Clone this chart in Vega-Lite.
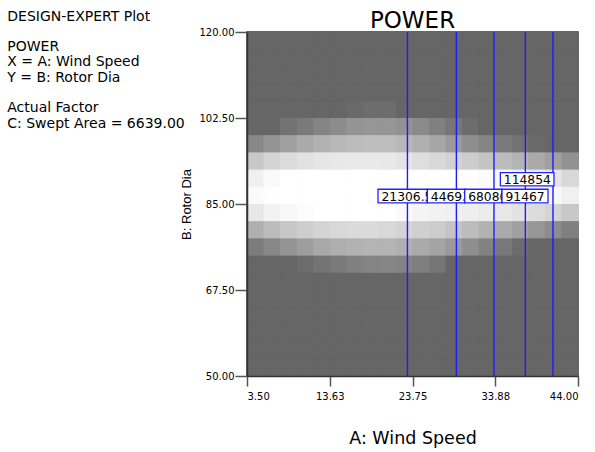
{
  "$schema": "https://vega.github.io/schema/vega-lite/v6.json",
  "width": 331,
  "height": 344,
  "autosize": "none",
  "padding": {"left": 247, "top": 32, "right": 17, "bottom": 76},
  "background": "white",
  "config": {
    "view": {"stroke": "#333333", "strokeWidth": 1.5, "fill": "#666666"},
    "axis": {"labelFont": "DejaVu Sans", "labelFontSize": 10, "labelColor": "black", "tickColor": "#555555", "tickWidth": 1.5, "domainColor": "#333333", "domainWidth": 1.5, "grid": false, "titleFontWeight": "normal", "titleColor": "black"},
    "text": {"font": "DejaVu Sans", "color": "black"}
  },
  "datasets": {
    "cells": [
      {"a":3.5,"b":116.5,"g":102},{"a":5.525,"b":116.5,"g":102},{"a":7.55,"b":116.5,"g":102},{"a":9.575,"b":116.5,"g":102},{"a":11.6,"b":116.5,"g":102},{"a":13.625,"b":116.5,"g":102},{"a":15.65,"b":116.5,"g":102},{"a":17.675,"b":116.5,"g":102},{"a":19.7,"b":116.5,"g":102},{"a":21.725,"b":116.5,"g":102},{"a":23.75,"b":116.5,"g":102},{"a":25.775,"b":116.5,"g":102},{"a":27.8,"b":116.5,"g":102},{"a":29.825,"b":116.5,"g":102},{"a":31.85,"b":116.5,"g":102},{"a":33.875,"b":116.5,"g":102},{"a":35.9,"b":116.5,"g":102},{"a":37.925,"b":116.5,"g":102},{"a":39.95,"b":116.5,"g":102},{"a":41.975,"b":116.5,"g":102},
      {"a":3.5,"b":113,"g":102},{"a":5.525,"b":113,"g":102},{"a":7.55,"b":113,"g":102},{"a":9.575,"b":113,"g":102},{"a":11.6,"b":113,"g":102},{"a":13.625,"b":113,"g":102},{"a":15.65,"b":113,"g":102},{"a":17.675,"b":113,"g":102},{"a":19.7,"b":113,"g":102},{"a":21.725,"b":113,"g":102},{"a":23.75,"b":113,"g":102},{"a":25.775,"b":113,"g":102},{"a":27.8,"b":113,"g":102},{"a":29.825,"b":113,"g":102},{"a":31.85,"b":113,"g":102},{"a":33.875,"b":113,"g":102},{"a":35.9,"b":113,"g":102},{"a":37.925,"b":113,"g":102},{"a":39.95,"b":113,"g":102},{"a":41.975,"b":113,"g":102},
      {"a":3.5,"b":109.5,"g":102},{"a":5.525,"b":109.5,"g":102},{"a":7.55,"b":109.5,"g":102},{"a":9.575,"b":109.5,"g":102},{"a":11.6,"b":109.5,"g":102},{"a":13.625,"b":109.5,"g":102},{"a":15.65,"b":109.5,"g":102},{"a":17.675,"b":109.5,"g":102},{"a":19.7,"b":109.5,"g":102},{"a":21.725,"b":109.5,"g":102},{"a":23.75,"b":109.5,"g":102},{"a":25.775,"b":109.5,"g":102},{"a":27.8,"b":109.5,"g":102},{"a":29.825,"b":109.5,"g":102},{"a":31.85,"b":109.5,"g":102},{"a":33.875,"b":109.5,"g":102},{"a":35.9,"b":109.5,"g":102},{"a":37.925,"b":109.5,"g":102},{"a":39.95,"b":109.5,"g":102},{"a":41.975,"b":109.5,"g":102},
      {"a":3.5,"b":106,"g":102},{"a":5.525,"b":106,"g":102},{"a":7.55,"b":106,"g":102},{"a":9.575,"b":106,"g":102},{"a":11.6,"b":106,"g":102},{"a":13.625,"b":106,"g":102},{"a":15.65,"b":106,"g":102},{"a":17.675,"b":106,"g":102},{"a":19.7,"b":106,"g":102},{"a":21.725,"b":106,"g":102},{"a":23.75,"b":106,"g":102},{"a":25.775,"b":106,"g":102},{"a":27.8,"b":106,"g":102},{"a":29.825,"b":106,"g":102},{"a":31.85,"b":106,"g":102},{"a":33.875,"b":106,"g":102},{"a":35.9,"b":106,"g":102},{"a":37.925,"b":106,"g":102},{"a":39.95,"b":106,"g":102},{"a":41.975,"b":106,"g":102},
      {"a":3.5,"b":102.5,"g":102},{"a":5.525,"b":102.5,"g":102},{"a":7.55,"b":102.5,"g":102},{"a":9.575,"b":102.5,"g":102},{"a":11.6,"b":102.5,"g":102},{"a":13.625,"b":102.5,"g":102},{"a":15.65,"b":102.5,"g":106},{"a":17.675,"b":102.5,"g":109},{"a":19.7,"b":102.5,"g":109},{"a":21.725,"b":102.5,"g":102},{"a":23.75,"b":102.5,"g":102},{"a":25.775,"b":102.5,"g":102},{"a":27.8,"b":102.5,"g":102},{"a":29.825,"b":102.5,"g":102},{"a":31.85,"b":102.5,"g":102},{"a":33.875,"b":102.5,"g":102},{"a":35.9,"b":102.5,"g":102},{"a":37.925,"b":102.5,"g":102},{"a":39.95,"b":102.5,"g":102},{"a":41.975,"b":102.5,"g":102},
      {"a":3.5,"b":99,"g":102},{"a":5.525,"b":99,"g":102},{"a":7.55,"b":99,"g":114},{"a":9.575,"b":99,"g":122},{"a":11.6,"b":99,"g":132},{"a":13.625,"b":99,"g":140},{"a":15.65,"b":99,"g":148},{"a":17.675,"b":99,"g":150},{"a":19.7,"b":99,"g":150},{"a":21.725,"b":99,"g":146},{"a":23.75,"b":99,"g":138},{"a":25.775,"b":99,"g":128},{"a":27.8,"b":99,"g":118},{"a":29.825,"b":99,"g":108},{"a":31.85,"b":99,"g":102},{"a":33.875,"b":99,"g":102},{"a":35.9,"b":99,"g":102},{"a":37.925,"b":99,"g":102},{"a":39.95,"b":99,"g":102},{"a":41.975,"b":99,"g":102},
      {"a":3.5,"b":95.5,"g":136},{"a":5.525,"b":95.5,"g":148},{"a":7.55,"b":95.5,"g":160},{"a":9.575,"b":95.5,"g":170},{"a":11.6,"b":95.5,"g":178},{"a":13.625,"b":95.5,"g":184},{"a":15.65,"b":95.5,"g":188},{"a":17.675,"b":95.5,"g":190},{"a":19.7,"b":95.5,"g":189},{"a":21.725,"b":95.5,"g":184},{"a":23.75,"b":95.5,"g":176},{"a":25.775,"b":95.5,"g":166},{"a":27.8,"b":95.5,"g":154},{"a":29.825,"b":95.5,"g":142},{"a":31.85,"b":95.5,"g":132},{"a":33.875,"b":95.5,"g":122},{"a":35.9,"b":95.5,"g":114},{"a":37.925,"b":95.5,"g":106},{"a":39.95,"b":95.5,"g":102},{"a":41.975,"b":95.5,"g":102},
      {"a":3.5,"b":92,"g":200},{"a":5.525,"b":92,"g":212},{"a":7.55,"b":92,"g":220},{"a":9.575,"b":92,"g":226},{"a":11.6,"b":92,"g":230},{"a":13.625,"b":92,"g":232},{"a":15.65,"b":92,"g":233},{"a":17.675,"b":92,"g":233},{"a":19.7,"b":92,"g":232},{"a":21.725,"b":92,"g":228},{"a":23.75,"b":92,"g":222},{"a":25.775,"b":92,"g":216},{"a":27.8,"b":92,"g":210},{"a":29.825,"b":92,"g":204},{"a":31.85,"b":92,"g":196},{"a":33.875,"b":92,"g":188},{"a":35.9,"b":92,"g":180},{"a":37.925,"b":92,"g":170},{"a":39.95,"b":92,"g":160},{"a":41.975,"b":92,"g":146},
      {"a":3.5,"b":88.5,"g":240},{"a":5.525,"b":88.5,"g":250},{"a":7.55,"b":88.5,"g":255},{"a":9.575,"b":88.5,"g":255},{"a":11.6,"b":88.5,"g":255},{"a":13.625,"b":88.5,"g":255},{"a":15.65,"b":88.5,"g":255},{"a":17.675,"b":88.5,"g":255},{"a":19.7,"b":88.5,"g":255},{"a":21.725,"b":88.5,"g":255},{"a":23.75,"b":88.5,"g":255},{"a":25.775,"b":88.5,"g":255},{"a":27.8,"b":88.5,"g":255},{"a":29.825,"b":88.5,"g":254},{"a":31.85,"b":88.5,"g":252},{"a":33.875,"b":88.5,"g":248},{"a":35.9,"b":88.5,"g":242},{"a":37.925,"b":88.5,"g":236},{"a":39.95,"b":88.5,"g":230},{"a":41.975,"b":88.5,"g":216},
      {"a":3.5,"b":85,"g":250},{"a":5.525,"b":85,"g":254},{"a":7.55,"b":85,"g":255},{"a":9.575,"b":85,"g":255},{"a":11.6,"b":85,"g":255},{"a":13.625,"b":85,"g":255},{"a":15.65,"b":85,"g":255},{"a":17.675,"b":85,"g":255},{"a":19.7,"b":85,"g":255},{"a":21.725,"b":85,"g":255},{"a":23.75,"b":85,"g":255},{"a":25.775,"b":85,"g":255},{"a":27.8,"b":85,"g":255},{"a":29.825,"b":85,"g":255},{"a":31.85,"b":85,"g":255},{"a":33.875,"b":85,"g":254},{"a":35.9,"b":85,"g":252},{"a":37.925,"b":85,"g":250},{"a":39.95,"b":85,"g":248},{"a":41.975,"b":85,"g":240},
      {"a":3.5,"b":81.5,"g":232},{"a":5.525,"b":81.5,"g":242},{"a":7.55,"b":81.5,"g":248},{"a":9.575,"b":81.5,"g":252},{"a":11.6,"b":81.5,"g":255},{"a":13.625,"b":81.5,"g":255},{"a":15.65,"b":81.5,"g":255},{"a":17.675,"b":81.5,"g":255},{"a":19.7,"b":81.5,"g":255},{"a":21.725,"b":81.5,"g":250},{"a":23.75,"b":81.5,"g":244},{"a":25.775,"b":81.5,"g":242},{"a":27.8,"b":81.5,"g":240},{"a":29.825,"b":81.5,"g":238},{"a":31.85,"b":81.5,"g":236},{"a":33.875,"b":81.5,"g":232},{"a":35.9,"b":81.5,"g":226},{"a":37.925,"b":81.5,"g":220},{"a":39.95,"b":81.5,"g":212},{"a":41.975,"b":81.5,"g":200},
      {"a":3.5,"b":78,"g":176},{"a":5.525,"b":78,"g":188},{"a":7.55,"b":78,"g":198},{"a":9.575,"b":78,"g":206},{"a":11.6,"b":78,"g":212},{"a":13.625,"b":78,"g":216},{"a":15.65,"b":78,"g":218},{"a":17.675,"b":78,"g":218},{"a":19.7,"b":78,"g":216},{"a":21.725,"b":78,"g":212},{"a":23.75,"b":78,"g":208},{"a":25.775,"b":78,"g":204},{"a":27.8,"b":78,"g":196},{"a":29.825,"b":78,"g":188},{"a":31.85,"b":78,"g":178},{"a":33.875,"b":78,"g":170},{"a":35.9,"b":78,"g":160},{"a":37.925,"b":78,"g":150},{"a":39.95,"b":78,"g":140},{"a":41.975,"b":78,"g":128},
      {"a":3.5,"b":74.5,"g":124},{"a":5.525,"b":74.5,"g":136},{"a":7.55,"b":74.5,"g":148},{"a":9.575,"b":74.5,"g":158},{"a":11.6,"b":74.5,"g":168},{"a":13.625,"b":74.5,"g":174},{"a":15.65,"b":74.5,"g":178},{"a":17.675,"b":74.5,"g":180},{"a":19.7,"b":74.5,"g":180},{"a":21.725,"b":74.5,"g":176},{"a":23.75,"b":74.5,"g":170},{"a":25.775,"b":74.5,"g":164},{"a":27.8,"b":74.5,"g":154},{"a":29.825,"b":74.5,"g":142},{"a":31.85,"b":74.5,"g":130},{"a":33.875,"b":74.5,"g":120},{"a":35.9,"b":74.5,"g":108},{"a":37.925,"b":74.5,"g":102},{"a":39.95,"b":74.5,"g":102},{"a":41.975,"b":74.5,"g":102},
      {"a":3.5,"b":71,"g":102},{"a":5.525,"b":71,"g":102},{"a":7.55,"b":71,"g":102},{"a":9.575,"b":71,"g":108},{"a":11.6,"b":71,"g":116},{"a":13.625,"b":71,"g":122},{"a":15.65,"b":71,"g":128},{"a":17.675,"b":71,"g":132},{"a":19.7,"b":71,"g":134},{"a":21.725,"b":71,"g":132},{"a":23.75,"b":71,"g":126},{"a":25.775,"b":71,"g":118},{"a":27.8,"b":71,"g":102},{"a":29.825,"b":71,"g":102},{"a":31.85,"b":71,"g":102},{"a":33.875,"b":71,"g":102},{"a":35.9,"b":71,"g":102},{"a":37.925,"b":71,"g":102},{"a":39.95,"b":71,"g":102},{"a":41.975,"b":71,"g":102},
      {"a":3.5,"b":67.5,"g":102},{"a":5.525,"b":67.5,"g":102},{"a":7.55,"b":67.5,"g":102},{"a":9.575,"b":67.5,"g":102},{"a":11.6,"b":67.5,"g":102},{"a":13.625,"b":67.5,"g":102},{"a":15.65,"b":67.5,"g":102},{"a":17.675,"b":67.5,"g":102},{"a":19.7,"b":67.5,"g":102},{"a":21.725,"b":67.5,"g":102},{"a":23.75,"b":67.5,"g":102},{"a":25.775,"b":67.5,"g":102},{"a":27.8,"b":67.5,"g":102},{"a":29.825,"b":67.5,"g":102},{"a":31.85,"b":67.5,"g":102},{"a":33.875,"b":67.5,"g":102},{"a":35.9,"b":67.5,"g":102},{"a":37.925,"b":67.5,"g":102},{"a":39.95,"b":67.5,"g":102},{"a":41.975,"b":67.5,"g":102},
      {"a":3.5,"b":64,"g":102},{"a":5.525,"b":64,"g":102},{"a":7.55,"b":64,"g":102},{"a":9.575,"b":64,"g":102},{"a":11.6,"b":64,"g":102},{"a":13.625,"b":64,"g":102},{"a":15.65,"b":64,"g":102},{"a":17.675,"b":64,"g":102},{"a":19.7,"b":64,"g":102},{"a":21.725,"b":64,"g":102},{"a":23.75,"b":64,"g":102},{"a":25.775,"b":64,"g":102},{"a":27.8,"b":64,"g":102},{"a":29.825,"b":64,"g":102},{"a":31.85,"b":64,"g":102},{"a":33.875,"b":64,"g":102},{"a":35.9,"b":64,"g":102},{"a":37.925,"b":64,"g":102},{"a":39.95,"b":64,"g":102},{"a":41.975,"b":64,"g":102},
      {"a":3.5,"b":60.5,"g":102},{"a":5.525,"b":60.5,"g":102},{"a":7.55,"b":60.5,"g":102},{"a":9.575,"b":60.5,"g":102},{"a":11.6,"b":60.5,"g":102},{"a":13.625,"b":60.5,"g":102},{"a":15.65,"b":60.5,"g":102},{"a":17.675,"b":60.5,"g":102},{"a":19.7,"b":60.5,"g":102},{"a":21.725,"b":60.5,"g":102},{"a":23.75,"b":60.5,"g":102},{"a":25.775,"b":60.5,"g":102},{"a":27.8,"b":60.5,"g":102},{"a":29.825,"b":60.5,"g":102},{"a":31.85,"b":60.5,"g":102},{"a":33.875,"b":60.5,"g":102},{"a":35.9,"b":60.5,"g":102},{"a":37.925,"b":60.5,"g":102},{"a":39.95,"b":60.5,"g":102},{"a":41.975,"b":60.5,"g":102},
      {"a":3.5,"b":57,"g":102},{"a":5.525,"b":57,"g":102},{"a":7.55,"b":57,"g":102},{"a":9.575,"b":57,"g":102},{"a":11.6,"b":57,"g":102},{"a":13.625,"b":57,"g":102},{"a":15.65,"b":57,"g":102},{"a":17.675,"b":57,"g":102},{"a":19.7,"b":57,"g":102},{"a":21.725,"b":57,"g":102},{"a":23.75,"b":57,"g":102},{"a":25.775,"b":57,"g":102},{"a":27.8,"b":57,"g":102},{"a":29.825,"b":57,"g":102},{"a":31.85,"b":57,"g":102},{"a":33.875,"b":57,"g":102},{"a":35.9,"b":57,"g":102},{"a":37.925,"b":57,"g":102},{"a":39.95,"b":57,"g":102},{"a":41.975,"b":57,"g":102},
      {"a":3.5,"b":53.5,"g":102},{"a":5.525,"b":53.5,"g":102},{"a":7.55,"b":53.5,"g":102},{"a":9.575,"b":53.5,"g":102},{"a":11.6,"b":53.5,"g":102},{"a":13.625,"b":53.5,"g":102},{"a":15.65,"b":53.5,"g":102},{"a":17.675,"b":53.5,"g":102},{"a":19.7,"b":53.5,"g":102},{"a":21.725,"b":53.5,"g":102},{"a":23.75,"b":53.5,"g":102},{"a":25.775,"b":53.5,"g":102},{"a":27.8,"b":53.5,"g":102},{"a":29.825,"b":53.5,"g":102},{"a":31.85,"b":53.5,"g":102},{"a":33.875,"b":53.5,"g":102},{"a":35.9,"b":53.5,"g":102},{"a":37.925,"b":53.5,"g":102},{"a":39.95,"b":53.5,"g":102},{"a":41.975,"b":53.5,"g":102},
      {"a":3.5,"b":50,"g":102},{"a":5.525,"b":50,"g":102},{"a":7.55,"b":50,"g":102},{"a":9.575,"b":50,"g":102},{"a":11.6,"b":50,"g":102},{"a":13.625,"b":50,"g":102},{"a":15.65,"b":50,"g":102},{"a":17.675,"b":50,"g":102},{"a":19.7,"b":50,"g":102},{"a":21.725,"b":50,"g":102},{"a":23.75,"b":50,"g":102},{"a":25.775,"b":50,"g":102},{"a":27.8,"b":50,"g":102},{"a":29.825,"b":50,"g":102},{"a":31.85,"b":50,"g":102},{"a":33.875,"b":50,"g":102},{"a":35.9,"b":50,"g":102},{"a":37.925,"b":50,"g":102},{"a":39.95,"b":50,"g":102},{"a":41.975,"b":50,"g":102}
    ],
    "contours": [
      {"x": 23.13, "level": 21306.5},
      {"x": 29.12, "level": 44693},
      {"x": 33.72, "level": 68080},
      {"x": 37.56, "level": 91467},
      {"x": 40.94, "level": 114854}
    ],
    "labels": [
      {"t": "21306.5", "o": 1, "x0": 19.53, "x1": 25.57, "y0": 85.24, "y1": 88.0},
      {"t": "44693", "o": 2, "x0": 25.57, "x1": 30.14, "y0": 85.24, "y1": 88.0},
      {"t": "68080", "o": 3, "x0": 30.14, "x1": 34.7, "y0": 85.24, "y1": 88.0},
      {"t": "91467", "o": 4, "x0": 34.7, "x1": 40.33, "y0": 85.24, "y1": 88.0},
      {"t": "114854", "o": 5, "x0": 34.5, "x1": 41.06, "y0": 88.7, "y1": 91.4}
    ]
  },
  "layer": [
    {
      "data": {"name": "cells"},
      "mark": {"type": "rect", "strokeWidth": 1},
      "encoding": {
        "x": {"field": "a", "type": "quantitative", "bin": {"binned": true, "step": 2.025},
              "scale": {"domain": [3.5, 44], "nice": false, "zero": false},
              "axis": {"values": [3.5, 13.625, 23.75, 33.875, 44], "format": ".2f", "tickSize": 10, "labelPadding": 5, "title": "A: Wind Speed", "titleFont": "DejaVu Sans", "titleFontSize": 17.5, "titlePadding": 28}},
        "y": {"field": "b", "type": "quantitative", "bin": {"binned": true, "step": 3.5},
              "scale": {"domain": [50, 120], "nice": false, "zero": false},
              "axis": {"values": [50, 67.5, 85, 102.5, 120], "format": ".2f", "tickSize": 12, "labelPadding": 1, "title": "B: Rotor Dia", "titleFont": "Liberation Sans", "titleFontSize": 13, "titlePadding": 6}},
        "fill": {"field": "g", "type": "quantitative", "scale": {"domain": [102, 255], "range": ["#666666", "#ffffff"], "interpolate": "rgb"}, "legend": null},
        "stroke": {"field": "g", "type": "quantitative", "scale": {"domain": [102, 255], "range": ["#666666", "#ffffff"], "interpolate": "rgb"}, "legend": null}
      }
    },
    {
      "data": {"name": "contours"},
      "mark": {"type": "rule", "color": "#1c1cff", "strokeWidth": 1.4},
      "encoding": {"x": {"field": "x", "type": "quantitative"}}
    },
    {"data": {"name": "labels"}, "transform": [{"filter": "datum.o == 1"}], "mark": {"type": "rect", "fill": "white", "stroke": "#2222ff", "strokeWidth": 1.3}, "encoding": {"x": {"field": "x0", "type": "quantitative"}, "x2": {"field": "x1"}, "y": {"field": "y0", "type": "quantitative"}, "y2": {"field": "y1"}}},
    {"data": {"name": "labels"}, "transform": [{"filter": "datum.o == 1"}], "mark": {"type": "text", "fontSize": 12.3, "align": "left", "baseline": "alphabetic", "dx": 3.5, "dy": -2}, "encoding": {"x": {"field": "x0", "type": "quantitative"}, "y": {"field": "y0", "type": "quantitative"}, "text": {"field": "t"}}},
    {"data": {"name": "labels"}, "transform": [{"filter": "datum.o == 2"}], "mark": {"type": "rect", "fill": "white", "stroke": "#2222ff", "strokeWidth": 1.3}, "encoding": {"x": {"field": "x0", "type": "quantitative"}, "x2": {"field": "x1"}, "y": {"field": "y0", "type": "quantitative"}, "y2": {"field": "y1"}}},
    {"data": {"name": "labels"}, "transform": [{"filter": "datum.o == 2"}], "mark": {"type": "text", "fontSize": 12.3, "align": "left", "baseline": "alphabetic", "dx": 3.5, "dy": -2}, "encoding": {"x": {"field": "x0", "type": "quantitative"}, "y": {"field": "y0", "type": "quantitative"}, "text": {"field": "t"}}},
    {"data": {"name": "labels"}, "transform": [{"filter": "datum.o == 3"}], "mark": {"type": "rect", "fill": "white", "stroke": "#2222ff", "strokeWidth": 1.3}, "encoding": {"x": {"field": "x0", "type": "quantitative"}, "x2": {"field": "x1"}, "y": {"field": "y0", "type": "quantitative"}, "y2": {"field": "y1"}}},
    {"data": {"name": "labels"}, "transform": [{"filter": "datum.o == 3"}], "mark": {"type": "text", "fontSize": 12.3, "align": "left", "baseline": "alphabetic", "dx": 3.5, "dy": -2}, "encoding": {"x": {"field": "x0", "type": "quantitative"}, "y": {"field": "y0", "type": "quantitative"}, "text": {"field": "t"}}},
    {"data": {"name": "labels"}, "transform": [{"filter": "datum.o == 4"}], "mark": {"type": "rect", "fill": "white", "stroke": "#2222ff", "strokeWidth": 1.3}, "encoding": {"x": {"field": "x0", "type": "quantitative"}, "x2": {"field": "x1"}, "y": {"field": "y0", "type": "quantitative"}, "y2": {"field": "y1"}}},
    {"data": {"name": "labels"}, "transform": [{"filter": "datum.o == 4"}], "mark": {"type": "text", "fontSize": 12.3, "align": "left", "baseline": "alphabetic", "dx": 3.5, "dy": -2}, "encoding": {"x": {"field": "x0", "type": "quantitative"}, "y": {"field": "y0", "type": "quantitative"}, "text": {"field": "t"}}},
    {"data": {"name": "labels"}, "transform": [{"filter": "datum.o == 5"}], "mark": {"type": "rect", "fill": "white", "stroke": "#2222ff", "strokeWidth": 1.3}, "encoding": {"x": {"field": "x0", "type": "quantitative"}, "x2": {"field": "x1"}, "y": {"field": "y0", "type": "quantitative"}, "y2": {"field": "y1"}}},
    {"data": {"name": "labels"}, "transform": [{"filter": "datum.o == 5"}], "mark": {"type": "text", "fontSize": 12.3, "align": "left", "baseline": "alphabetic", "dx": 3.5, "dy": -2}, "encoding": {"x": {"field": "x0", "type": "quantitative"}, "y": {"field": "y0", "type": "quantitative"}, "text": {"field": "t"}}},
    {"data": {"values": [{}]}, "mark": {"type": "text", "text": "DESIGN-EXPERT Plot", "align": "left", "baseline": "middle", "fontSize": 14},
     "encoding": {"x": {"datum": -25.83, "type": "quantitative"}, "y": {"datum": 123.11, "type": "quantitative"}}},
    {"data": {"values": [{}]}, "mark": {"type": "text", "text": "POWER", "align": "left", "baseline": "middle", "fontSize": 14},
     "encoding": {"x": {"datum": -25.83, "type": "quantitative"}, "y": {"datum": 117.01, "type": "quantitative"}}},
    {"data": {"values": [{}]}, "mark": {"type": "text", "text": "X = A: Wind Speed", "align": "left", "baseline": "middle", "fontSize": 14},
     "encoding": {"x": {"datum": -25.83, "type": "quantitative"}, "y": {"datum": 113.83, "type": "quantitative"}}},
    {"data": {"values": [{}]}, "mark": {"type": "text", "text": "Y = B: Rotor Dia", "align": "left", "baseline": "middle", "fontSize": 14},
     "encoding": {"x": {"datum": -25.83, "type": "quantitative"}, "y": {"datum": 110.7, "type": "quantitative"}}},
    {"data": {"values": [{}]}, "mark": {"type": "text", "text": "Actual Factor", "align": "left", "baseline": "middle", "fontSize": 14},
     "encoding": {"x": {"datum": -25.83, "type": "quantitative"}, "y": {"datum": 104.52, "type": "quantitative"}}},
    {"data": {"values": [{}]}, "mark": {"type": "text", "text": "C: Swept Area = 6639.00", "align": "left", "baseline": "middle", "fontSize": 14},
     "encoding": {"x": {"datum": -25.83, "type": "quantitative"}, "y": {"datum": 101.35, "type": "quantitative"}}},
    {"data": {"values": [{}]}, "mark": {"type": "text", "text": "POWER", "align": "center", "baseline": "alphabetic", "fontSize": 23},
     "encoding": {"x": {"datum": 23.75, "type": "quantitative"}, "y": {"datum": 120.77, "type": "quantitative"}}}
  ]
}
